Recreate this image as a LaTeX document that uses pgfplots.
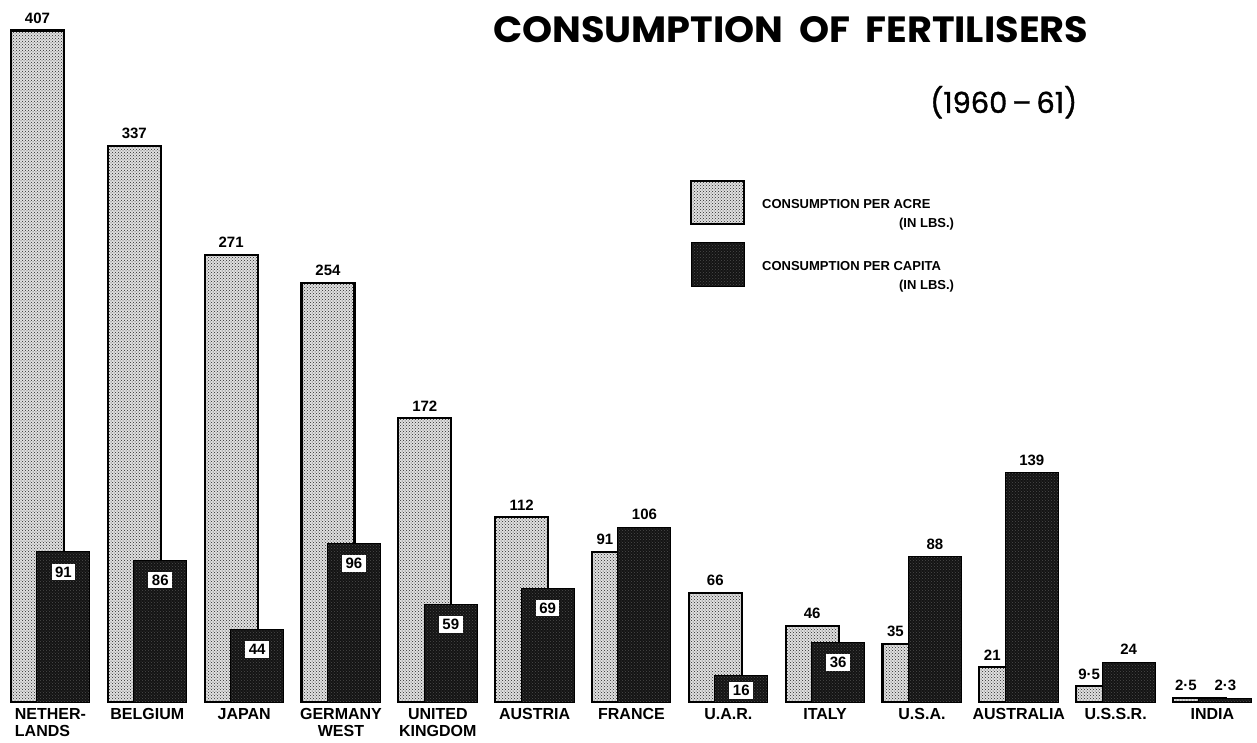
\documentclass[border=0pt]{standalone}
\usepackage{graphicx}
\usepackage{pgfplots}
\pgfplotsset{compat=1.18}
\usepackage{pgfplotstable}
\usetikzlibrary{patterns}
\usepackage{fontspec}
\setmainfont{Liberation Sans}
\newfontfamily\titlefont{Poppins}
\newfontfamily\subfont{Poppins}[FakeBold=1.2]
\newcommand\valfont{\fontsize{15}{16}\selectfont\bfseries}
\newcommand\ticfont{\fontsize{16}{17}\selectfont\bfseries}
\newcommand\legfont{\fontsize{13}{19}\selectfont\bfseries}

% light bars whose label sits centred on the bar
\pgfplotstableread{
x acre lab
0 407 407
1 337 337
2 271 271
3 254 254
4 172 172
5 112 112
7 66 66
8 46 46
}\acreA
% light bars partly hidden by a taller dark bar (label over visible part)
\pgfplotstableread{
x acre lab
6 91 91
9 35 35
10 21 21
11 9.5 9·5
12 2.5 2·5
}\acreB

\pgfplotstableread{
x capita lab
0 91 91
1 86 86
2 44 44
3 96 96
4 59 59
5 69 69
8 36 36
}\capin
\pgfplotstableread{
x capita lab
7 16 16
}\capinsmall

\pgfplotstableread{
x capita lab
6 106 106
9 88 88
10 139 139
11 24 24
12 2.3 2·3
}\capout

\pgfplotsset{
  lightbar/.style={fill=black!12, draw=black, line width=2.2pt,
    postaction={pattern=crosshatch dots, pattern color=black!85}},
  darkbar/.style={fill=black!92, draw=black, line width=1pt,
    postaction={pattern=crosshatch dots, pattern color=black!70}},
  lightleg/.style={legend image code/.code={\draw[##1] (0pt,-10pt) rectangle (53pt,33pt);}},
  darkleg/.style={legend image code/.code={\draw[##1] (0pt,-10pt) rectangle (53pt,34pt);}},
  inlabel/.style={every node near coord/.append style={anchor=center, fill=white, text=black, draw=none,
    inner xsep=3.5pt, inner ysep=3pt, font=\valfont, yshift=#1}},
  outlabel/.style={every node near coord/.append style={anchor=south, inner sep=0pt, font=\valfont, text=black, yshift=#1}},
  leftlabel/.style={every node near coord/.append style={xshift=-13.5pt}},
}

\begin{document}
\begin{tikzpicture}
\useasboundingbox (0pt,0pt) rectangle (1257pt,742pt);
\begin{axis}[
  at={(0pt,40pt)}, anchor=south west,
  scale only axis, width=1257pt, height=702pt,
  xmin=-0.5215, xmax=12.460, ymin=0, ymax=425.5,
  ybar, bar width=53pt,
  axis line style={draw=none},
  ytick=\empty,
  xtick={0,...,12},
  xticklabels={{NETHER-\\\rlap{LANDS}\phantom{NETHER-}},BELGIUM,JAPAN,{GERMANY\\WEST},{UNITED\\KINGDOM},AUSTRIA,FRANCE,U.A.R.,ITALY,U.S.A.,AUSTRALIA,U.S.S.R.,INDIA},
  major tick length=0pt,
  xticklabel style={font=\ticfont, align=center, inner sep=0pt, yshift=-6pt, anchor=north},
  clip=false,
  nodes near coords, point meta=explicit symbolic,
  legend style={at={(0.5489,0.7436)}, anchor=north west, draw=none, fill=none,
    inner sep=0pt, outer sep=0pt, row sep=13pt, column sep=17pt, font=\legfont,
    nodes={inner sep=0pt}, cells={align=left, anchor=west}},
  legend cell align=left,
]
\addplot[lightbar, bar shift=-13pt, outlabel=6pt, lightleg]
  table[x=x, y=acre, meta=lab] {\acreA};
\addlegendentry{CONSUMPTION PER ACRE\\\hspace*{137pt}(IN LBS.)}

\addplot[darkbar, bar shift=13pt, inlabel=-20pt, darkleg]
  table[x=x, y=capita, meta=lab] {\capin};
\addlegendentry{CONSUMPTION PER CAPITA\\\hspace*{137pt}(IN LBS.)}

\addplot[lightbar, bar shift=-13pt, forget plot, outlabel=6pt, leftlabel]
  table[x=x, y=acre, meta=lab] {\acreB};

\addplot[darkbar, bar shift=13pt, forget plot, inlabel=-15pt]
  table[x=x, y=capita, meta=lab] {\capinsmall};

\addplot[darkbar, bar shift=13pt, forget plot, outlabel=7pt]
  table[x=x, y=capita, meta=lab] {\capout};
\end{axis}
\node[anchor=base west, inner sep=0pt] at (493pt,699pt)
  {\resizebox{595pt}{26pt}{\titlefont\bfseries CONSUMPTION\hspace{0.4em}OF\hspace{0.4em}FERTILISERS}};
\node[anchor=base west, inner sep=0pt] at (930pt,629pt)
  {\resizebox{147pt}{!}{\subfont (1960\,–\,61)}};
\end{tikzpicture}
\end{document}
